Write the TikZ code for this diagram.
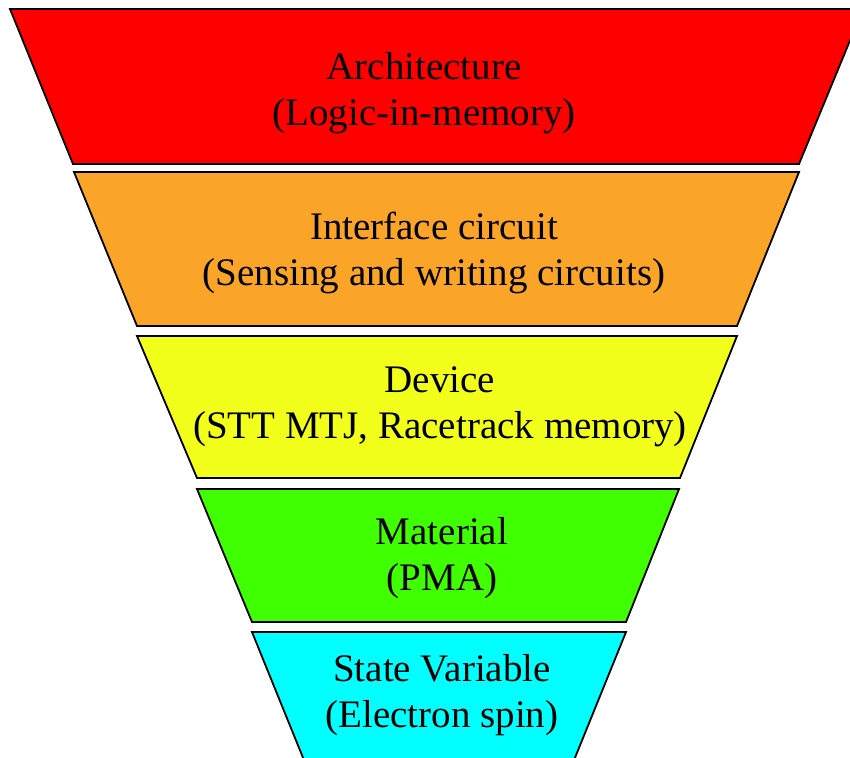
\documentclass[tikz,border=0pt]{standalone}
\usepackage{fontspec}
\setmainfont{Liberation Serif}
\definecolor{cRed}{RGB}{255,0,0}
\definecolor{cOrange}{RGB}{250,165,40}
\definecolor{cYellow}{RGB}{242,255,26}
\definecolor{cGreen}{RGB}{64,255,0}
\definecolor{cCyan}{RGB}{0,255,255}
\tikzset{
  layer/.style={draw=black, line width=1.8pt, line join=miter},
  lbl/.style={align=center, font=\fontsize{39}{46}\selectfont, inner sep=0pt}
}
\begin{document}
\begin{tikzpicture}[x=1pt,y=-1pt]
\useasboundingbox (0,0) rectangle (850,757);
\begin{scope}
\clip (0,0) rectangle (850,757);
\draw[layer, fill=cRed] (10,9) -- (863,9) -- (799,164) -- (73,164) -- cycle;
\draw[layer, fill=cOrange] (74,172) -- (799,172) -- (737,326) -- (137,326) -- cycle;
\draw[layer, fill=cYellow] (137,336) -- (737,336) -- (680,478) -- (197,478) -- cycle;
\draw[layer, fill=cGreen] (197,489) -- (679,489) -- (626,622) -- (252,622) -- cycle;
\draw[layer, fill=cCyan] (252,632) -- (626,632) -- (570,770) -- (308,770) -- cycle;
\end{scope}
\node[lbl] (arch) at (424,93) {Architecture\\(Logic-in-memory)};
\node[lbl] (intf) at (434,253) {Interface circuit\\(Sensing and writing circuits)};
\node[lbl] (dev) at (440,407) {Device\\(STT MTJ, Racetrack memory)};
\node[lbl] (mat) at (442,558) {Material\\(PMA)};
\node[lbl] (state) at (442,695) {State Variable\\(Electron spin)};
\end{tikzpicture}
\end{document}
